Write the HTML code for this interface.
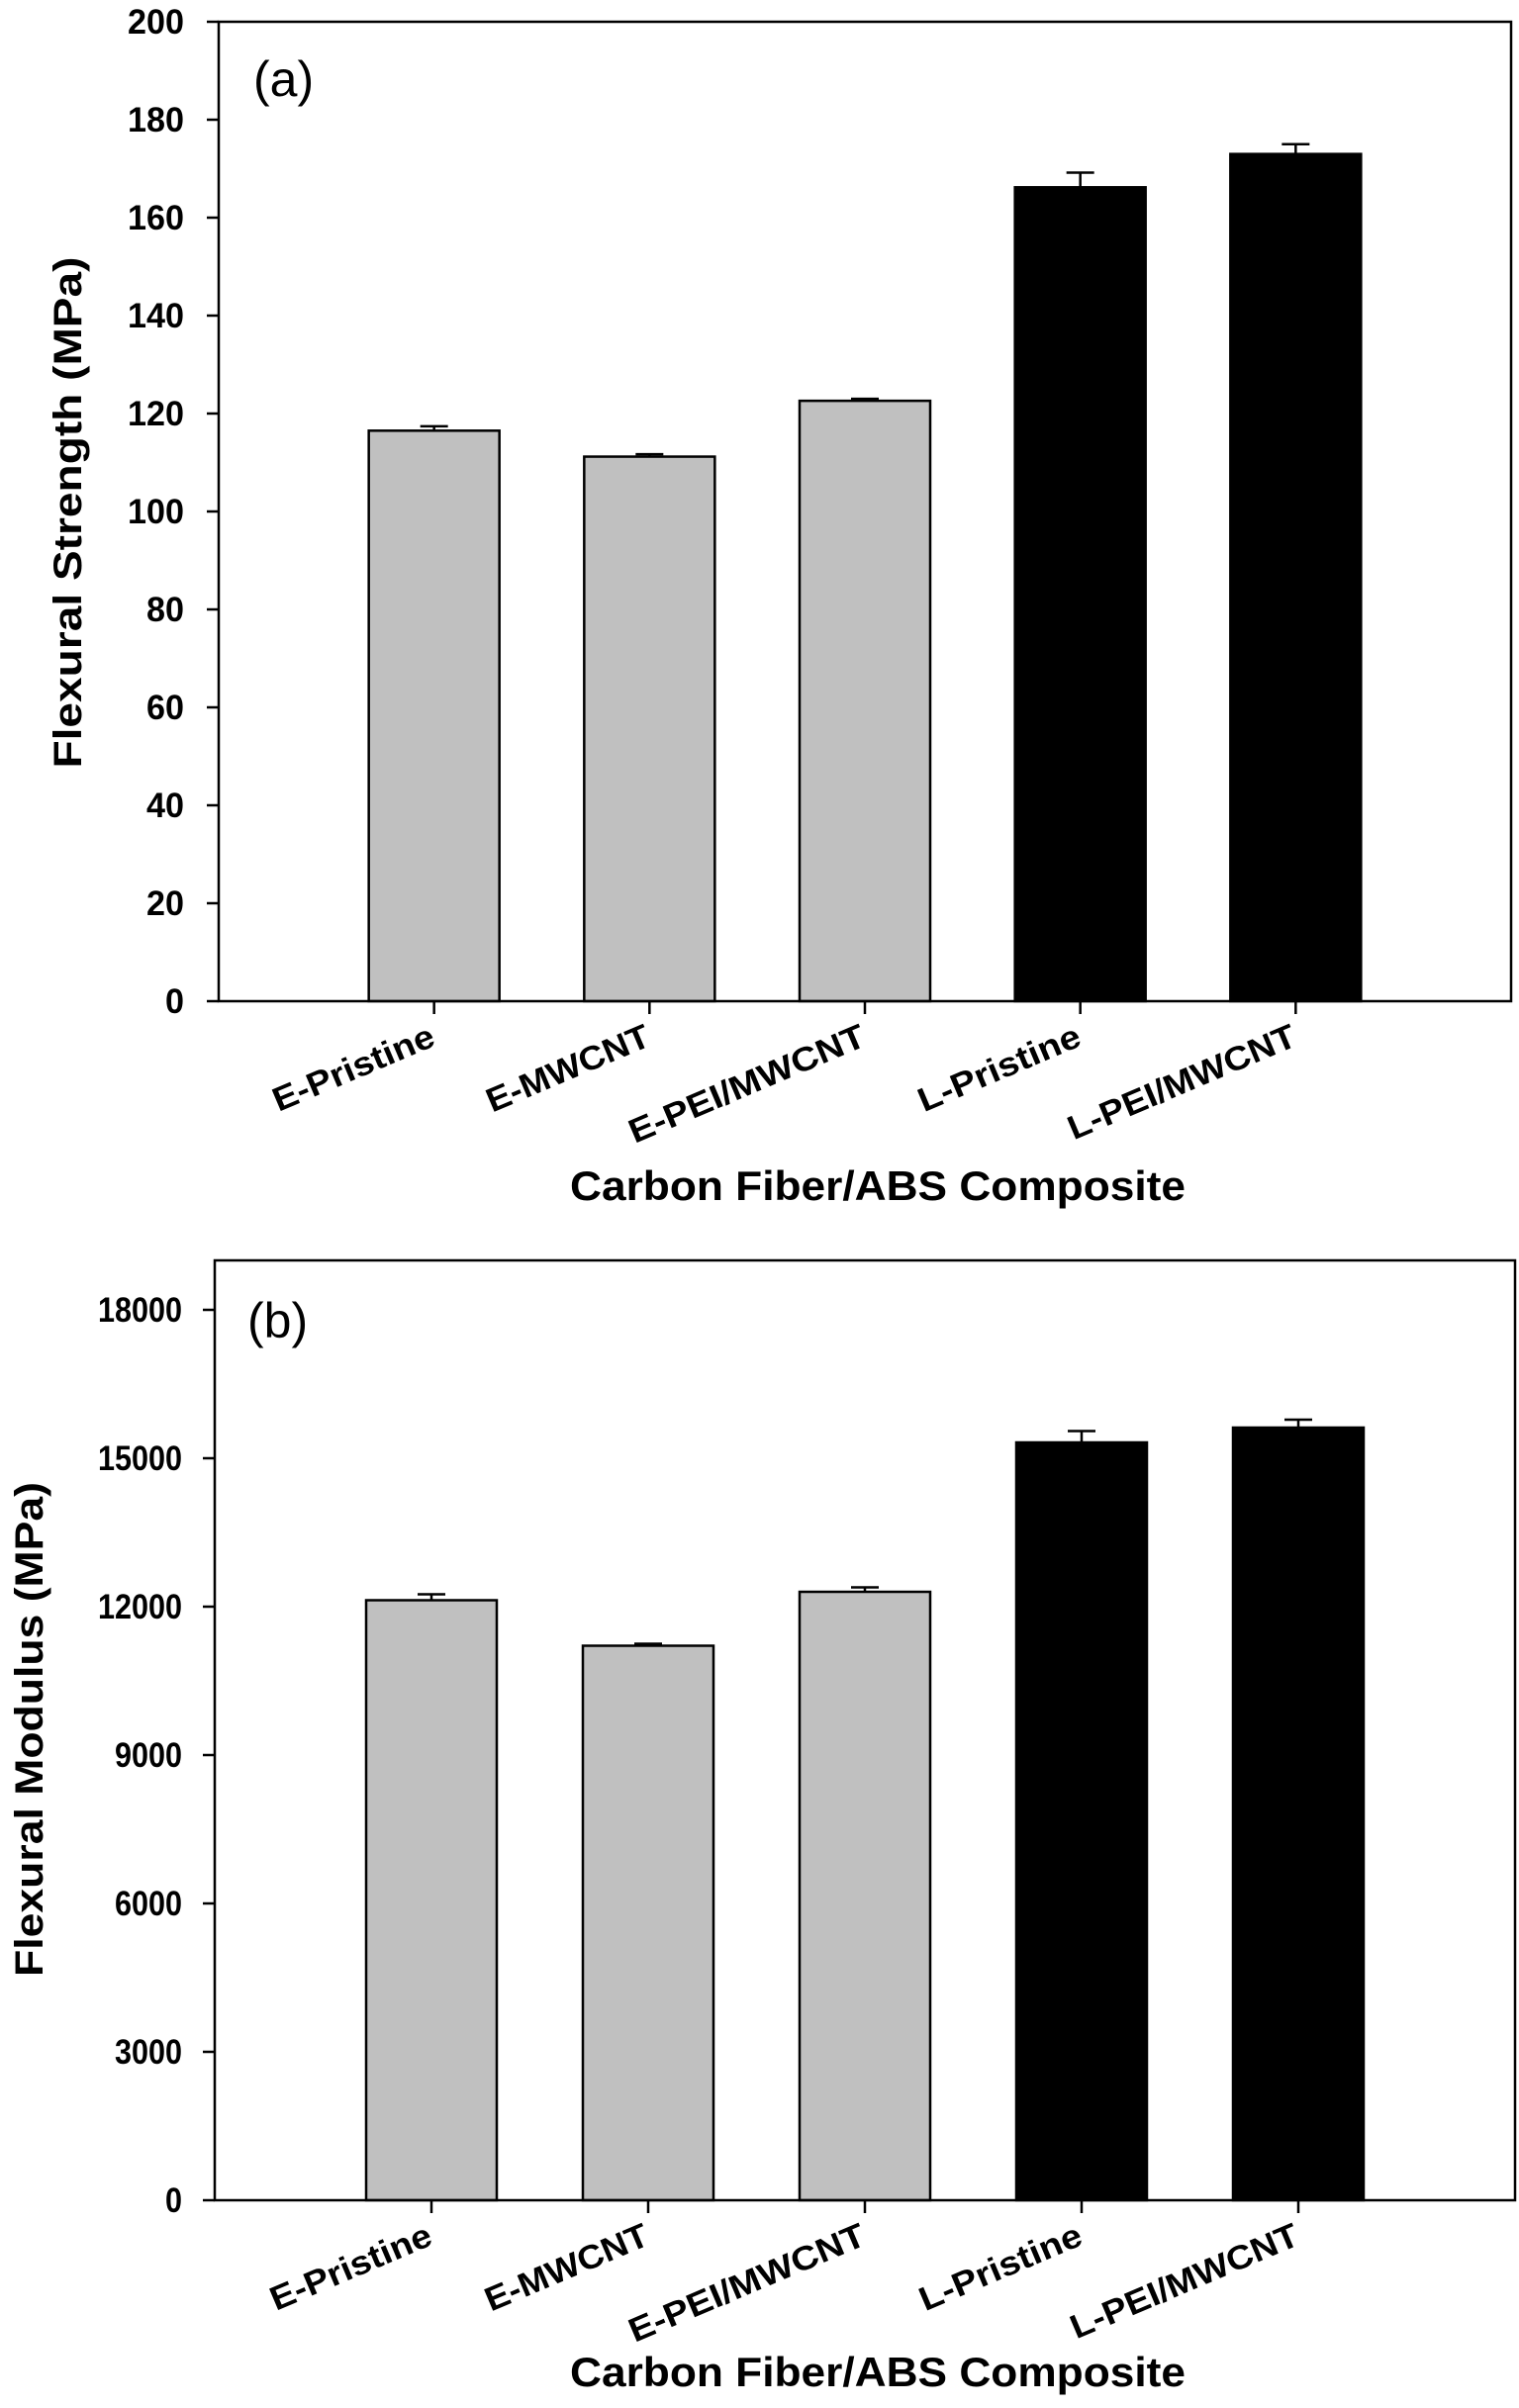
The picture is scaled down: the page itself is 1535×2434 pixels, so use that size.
<!DOCTYPE html>
<html><head><meta charset="utf-8"><style>
html,body{margin:0;padding:0;background:#fff;}
svg text{font-family:"Liberation Sans",Arial,sans-serif;}
</style></head><body>
<svg id="fig" width="1535" height="2429" viewBox="0 0 1535 2429" xmlns="http://www.w3.org/2000/svg"></svg>
<script>
const categories = ["E-Pristine","E-MWCNT","E-PEI/MWCNT","L-Pristine","L-PEI/MWCNT"];
const strengthValues = [116.5, 111.2, 122.6, 166.2, 173.0];
const strengthErrors = [0.9, 0.5, 0.4, 3.0, 2.0];
const modulusValues = [12130, 11210, 12300, 15320, 15620];
const modulusErrors = [120, 40, 90, 230, 160];
const strengthTicks = [0,20,40,60,80,100,120,140,160,180,200];
const modulusTicks = [0,3000,6000,9000,12000,15000,18000];
const labelLengths = [174,176,256,175,247];

const NS="http://www.w3.org/2000/svg";
const svg=document.getElementById('fig');
function mk(tag,attrs,parent){const e=document.createElementNS(NS,tag);for(const k in attrs)e.setAttribute(k,attrs[k]);(parent||svg).appendChild(e);return e;}

function panel(o){
  const g=mk('g',{});
  
  
  const {L,R,T,B,ymax}=o;
  const slot=(R-L)/6;
  const xs=i=>L+slot*(i+1);
  const ys=v=>B-(v/ymax)*(B-T);
  // bars
  o.values.forEach((v,i)=>{
    const bw=132, x=xs(i)-bw/2, col=i<3?'#c0c0c0':'#000';
    const eb=mk('line',{x1:xs(i),x2:xs(i),y1:ys(v),y2:ys(v+o.errors[i]),stroke:'#000','stroke-width':2.5},g);
    
    
    const cap=mk('line',{x1:xs(i)-14,x2:xs(i)+14,y1:ys(v+o.errors[i]),y2:ys(v+o.errors[i]),stroke:'#000','stroke-width':2.5},g);
    
    
    const r=mk('rect',{x:x,y:ys(v),width:bw,height:B-ys(v),fill:col,stroke:'#000','stroke-width':2.5},g);
    
    
    const t=mk('line',{x1:xs(i),x2:xs(i),y1:B,y2:B+13,stroke:'#000','stroke-width':2.5},g);
    
    
    const lb=mk('text',{transform:`translate(${xs(i)+3},${B+44}) rotate(-23)`,'text-anchor':'end','font-size':34,'font-weight':'bold',textLength:labelLengths[i],lengthAdjust:'spacingAndGlyphs'},g);
    lb.textContent=categories[i];
    
    
  });
  // frame
  const fr=mk('rect',{x:L,y:T,width:R-L,height:B-T,fill:'none',stroke:'#000','stroke-width':2.5},g);
  
  
  o.ticks.forEach(tv=>{
    const tl=mk('line',{x1:L-12,x2:L,y1:ys(tv),y2:ys(tv),stroke:'#000','stroke-width':2.5},g);
    
    
    const s=String(tv);
    const tx=mk('text',{x:o.tickRight,y:ys(tv)+12,'text-anchor':'end','font-size':35,'font-weight':'bold',textLength:s.length*o.charW,lengthAdjust:'spacingAndGlyphs'},g);
    tx.textContent=s;
    
    
  });
  const yt=mk('text',{transform:`translate(${o.ytX},${o.ytY}) rotate(-90)`,'text-anchor':'middle','font-size':40,'font-weight':'bold',textLength:o.ytLen,lengthAdjust:'spacingAndGlyphs'},g);
  yt.textContent=o.ytitle;
  
  
  const xt=mk('text',{x:887,y:o.xtY,'text-anchor':'middle','font-size':42,'font-weight':'bold',textLength:622,lengthAdjust:'spacingAndGlyphs'},g);
  xt.textContent='Carbon Fiber/ABS Composite';
  
  
  const pl=mk('text',{x:o.plX,y:o.plY,'font-size':50},g);
  pl.textContent=o.plabel;
  
  
}
panel({name:'chart-flexural-strength',L:221,R:1527,T:22,B:1012,ymax:200,values:strengthValues,errors:strengthErrors,ticks:strengthTicks,tickRight:186,charW:19,ytitle:'Flexural Strength (MPa)',ytX:82,ytY:518,ytLen:517,xtY:1213,plabel:'(a)',plX:256,plY:97});
panel({name:'chart-flexural-modulus',L:217,R:1531,T:1274,B:2224,ymax:19000,values:modulusValues,errors:modulusErrors,ticks:modulusTicks,tickRight:184,charW:17,ytitle:'Flexural Modulus (MPa)',ytX:43,ytY:1748,ytLen:500,xtY:2412,plabel:'(b)',plX:250,plY:1352});
</script>
</body></html>
